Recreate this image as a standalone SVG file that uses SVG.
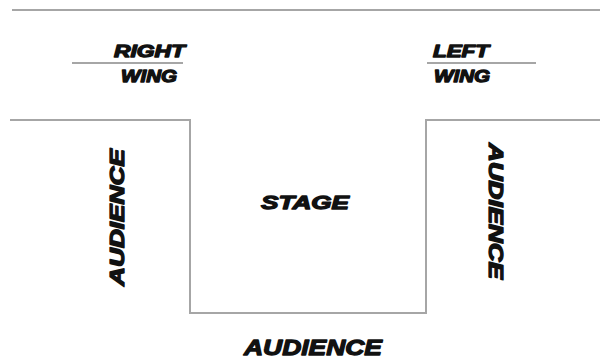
<svg xmlns="http://www.w3.org/2000/svg" width="600" height="360" viewBox="0 0 600 360">
<style>
.ln{fill:none;stroke:#a6a6a6;stroke-width:2}
.t{font-family:"Liberation Sans",Arial,sans-serif;font-weight:bold;font-style:italic;fill:#111;stroke:#111;stroke-width:1.3;stroke-linejoin:round}
</style>
<rect width="600" height="360" fill="#fff"/>
<g id="lines">
<line class="ln" x1="12" y1="10" x2="600" y2="10"/>
<line class="ln" x1="72" y1="63" x2="183" y2="63"/>
<line class="ln" x1="427" y1="63" x2="536" y2="63"/>
<polyline class="ln" points="10,120 190,120 190,313 426,313 426,120 600,120"/>
</g>
<g id="right-wing">
<text class="t" x="114" y="57" font-size="17" textLength="71" lengthAdjust="spacingAndGlyphs">RIGHT</text>
<text class="t" x="121" y="82" font-size="17" textLength="56" lengthAdjust="spacingAndGlyphs">WING</text>
</g>
<g id="left-wing">
<text class="t" x="433" y="57" font-size="17" textLength="56" lengthAdjust="spacingAndGlyphs">LEFT</text>
<text class="t" x="434" y="82" font-size="17" textLength="56" lengthAdjust="spacingAndGlyphs">WING</text>
</g>
<g id="stage">
<text class="t" x="261" y="209" font-size="19" textLength="88" lengthAdjust="spacingAndGlyphs">STAGE</text>
</g>
<g id="audience-left">
<text class="t" transform="translate(124,286) rotate(-90)" x="0" y="0" font-size="19.5" textLength="137" lengthAdjust="spacingAndGlyphs">AUDIENCE</text>
</g>
<g id="audience-right">
<text class="t" transform="translate(489,143) rotate(90)" x="0" y="0" font-size="19.5" textLength="136" lengthAdjust="spacingAndGlyphs">AUDIENCE</text>
</g>
<g id="audience-bottom">
<text class="t" x="244" y="355" font-size="22" textLength="138" lengthAdjust="spacingAndGlyphs">AUDIENCE</text>
</g>
</svg>
